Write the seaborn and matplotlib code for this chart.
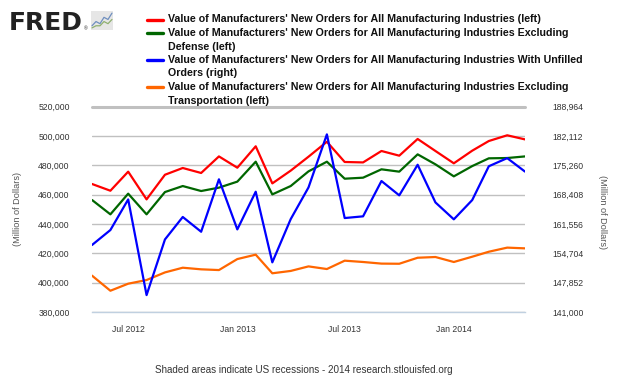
import matplotlib
matplotlib.use("Agg")
import matplotlib.pyplot as plt
from matplotlib.ticker import FixedLocator, FuncFormatter
from matplotlib.lines import Line2D
import seaborn as sns
import pandas as pd

# ---------------- data ----------------
months = pd.date_range("2012-05-01", periods=25, freq="MS")
total_orders = [467300, 462700, 475700, 456800, 473600, 478200, 474800, 486100, 478400,
                493000, 467700, 476400, 485900, 496100, 482300, 482000, 489800,
                486600, 498000, 489800, 481400, 490000, 496600, 500500, 497700]
ex_defense = [456400, 446600, 460700, 446600, 461800, 465900, 462500, 464800, 468900,
              482500, 460200, 465900, 475900, 482500, 470900, 471600, 477300,
              475700, 487500, 480700, 472500, 479500, 484800, 485000, 486100]
unfilled = [156650, 160150, 167300, 144950, 157950, 163200, 159750, 172000, 160300,
            169100, 152600, 162700, 170100, 182500, 162950, 163350, 171600,
            168250, 175400, 166600, 162650, 167150, 175050, 176950, 173800]
ex_transport = [404800, 394500, 399300, 401800, 407000, 410200, 409100, 408600, 416100,
                419100, 406400, 408000, 411100, 409300, 415000, 414100, 413000,
                412900, 417000, 417500, 414100, 417700, 421100, 423900, 423400]

series_labels = [
    ["Value of Manufacturers' New Orders for All Manufacturing Industries (left)"],
    ["Value of Manufacturers' New Orders for All Manufacturing Industries Excluding",
     "Defense (left)"],
    ["Value of Manufacturers' New Orders for All Manufacturing Industries With Unfilled",
     "Orders (right)"],
    ["Value of Manufacturers' New Orders for All Manufacturing Industries Excluding",
     "Transportation (left)"],
]
left_ticks = [380000, 400000, 420000, 440000, 460000, 480000, 500000, 520000]
right_ticks = [141000, 147852, 154704, 161556, 168408, 175260, 182112, 188964]
x_tick_dates = pd.to_datetime(["2012-07-01", "2013-01-01", "2013-07-01", "2014-01-01"])
x_tick_labels = ["Jul 2012", "Jan 2013", "Jul 2013", "Jan 2014"]
footer = "Shaded areas indicate US recessions - 2014 research.stlouisfed.org"
y_label = "(Million of Dollars)"

# ---------------- style ----------------
sns.set_style("white")
FONT = ["Liberation Sans", "DejaVu Sans"]
plt.rcParams["font.family"] = FONT

RED, GREEN, BLUE, ORANGE = "#ff0000", "#006600", "#0000ff", "#ff6600"
GRID = "#c0c0c0"
AXIS = "#c0d0e0"
TXT = "#333333"
TICK_FS = 6.2

fig = plt.figure(figsize=(6.3, 3.78), dpi=100)
W, H = 630, 378
L, R, T, B = 92, 525, 106.7, 312
ax = fig.add_axes([L / W, 1 - B / H, (R - L) / W, (B - T) / H])

df = pd.DataFrame({"date": months, "total": total_orders, "exdef": ex_defense,
                   "unfilled": unfilled, "extrans": ex_transport})

sns.lineplot(data=df, x="date", y="total", ax=ax, color=RED, lw=1.6, zorder=4)
sns.lineplot(data=df, x="date", y="exdef", ax=ax, color=GREEN, lw=1.6, zorder=3)
sns.lineplot(data=df, x="date", y="extrans", ax=ax, color=ORANGE, lw=1.6, zorder=3)

ax.set_ylim(left_ticks[0], left_ticks[-1])
ax.set_xlim(months[0], months[-1])
ax.yaxis.set_major_locator(FixedLocator(left_ticks))
ax.yaxis.set_major_formatter(FuncFormatter(lambda v, p: f"{int(round(v)):,}"))
ax.grid(axis="y", color=GRID, lw=1)
ax.grid(axis="x", visible=False)
ax.axhline(left_ticks[-1], color=GRID, lw=2.2, zorder=1, clip_on=False)
ax.set_xlabel("")
ax.set_ylabel("")
for s in ["top", "left", "right"]:
    ax.spines[s].set_visible(False)
ax.spines["bottom"].set_color(AXIS)
ax.spines["bottom"].set_linewidth(1)
ax.set_xticks(x_tick_dates)
ax.set_xticklabels(x_tick_labels)
ax.tick_params(axis="x", direction="out", length=6.5, width=1, color=AXIS,
               labelsize=TICK_FS, labelcolor=TXT, pad=3)
ax.tick_params(axis="y", length=0, labelsize=TICK_FS, labelcolor=TXT, pad=16)

ax2 = ax.twinx()
sns.lineplot(data=df, x="date", y="unfilled", ax=ax2, color=BLUE, lw=1.6, zorder=5)
ax2.set_ylim(right_ticks[0], right_ticks[-1])
ax2.yaxis.set_major_locator(FixedLocator(right_ticks))
ax2.yaxis.set_major_formatter(FuncFormatter(lambda v, p: f"{int(round(v)):,}"))
ax2.tick_params(axis="y", length=0, labelsize=TICK_FS, labelcolor=TXT, pad=20)
ax2.set_ylabel("")
ax2.grid(False)
for s in ["top", "left", "right", "bottom"]:
    ax2.spines[s].set_visible(False)
ax2.set_xlim(months[0], months[-1])

fig.text(18 / W, 1 - 209 / H, y_label, rotation=90, ha="center", va="center",
         fontsize=6.6, color="#555555")
fig.text(602 / W, 1 - 212 / H, y_label, rotation=270, ha="center", va="center",
         fontsize=6.6, color="#555555")

# legend (manual rows for exact FRED spacing)
row_pitch = 13.5
row_y = 19.5
for color, lines in zip((RED, GREEN, BLUE, ORANGE), series_labels):
    fig.add_artist(Line2D([147 / W, 163 / W], [1 - row_y / H] * 2, color=color,
                          lw=2.4, transform=fig.transFigure))
    for line in lines:
        fig.text(168 / W, 1 - row_y / H, line, ha="left", va="center",
                 fontsize=7.7, fontweight="bold", color="#111111")
        row_y += row_pitch

# FRED logo
fig.text(9 / W, 1 - 30 / H, "FRED", fontsize=18, fontweight="bold",
         color="#222222", va="baseline", family=["DejaVu Sans"])
fig.text(84 / W, 1 - 30 / H, "®", fontsize=3.5, color="#222222", va="baseline")
icon = fig.add_axes([91 / W, 1 - 30 / H, 22 / W, 19 / H])
icon.set_facecolor("#e6e6e6")
icon_blue = [2, 4, 3, 6, 5, 8]
icon_green = [1, 2, 2, 4, 3, 5]
icon.plot(icon_blue, color="#6f8fbf", lw=0.9)
icon.plot(icon_green, color="#8fb070", lw=0.9)
icon.set_ylim(0, 9)
icon.set_xticks([]); icon.set_yticks([])
for s in icon.spines.values():
    s.set_visible(False)

fig.text(304 / W, 1 - 370 / H, footer, ha="center", va="center",
         fontsize=7.1, color=TXT)

fig.savefig("out.png", dpi=100)
